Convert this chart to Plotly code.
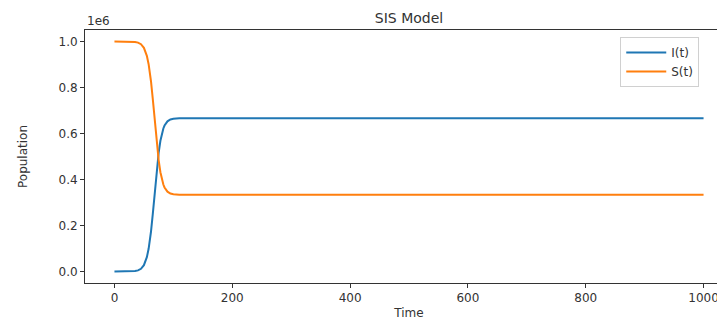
import plotly.graph_objects as go

time = [0, 10, 20, 30, 35, 40, 45, 50, 55, 58, 60, 62, 65, 68, 70, 72, 75, 78, 80, 83, 85, 88, 90, 95, 100, 110, 120, 150,
        200, 300, 400, 500, 600, 700, 800, 900, 1000]
infected = [5, 26, 150, 862, 2065, 4940, 11700, 27500, 62200, 98800, 131800, 172800, 248000, 333500, 391000, 445600,
            515500, 568200, 594400, 622000, 634600, 647400, 653000, 661000, 664500, 666200, 666600, 666660,
            666667, 666667, 666667, 666667, 666667, 666667, 666667, 666667, 666667]
susceptible = [999995, 999974, 999850, 999138, 997935, 995060, 988300, 972500, 937800, 901200, 868200, 827200, 752000,
               666500, 609000, 554400, 484500, 431800, 405600, 378000, 365400, 352600, 347000, 339000, 335500, 333800,
               333400, 333340, 333333, 333333, 333333, 333333, 333333, 333333, 333333, 333333, 333333]

x_ticks = [0, 200, 400, 600, 800, 1000]
y_ticks = [0, 200000, 400000, 600000, 800000, 1000000]
y_tick_text = ["0.0", "0.2", "0.4", "0.6", "0.8", "1.0"]

font_family = "DejaVu Sans"
text_color = "#333333"

fig = go.Figure()
fig.add_trace(go.Scatter(x=time, y=infected, mode="lines", name="I(t)",
                         line=dict(color="#1f77b4", width=2)))
fig.add_trace(go.Scatter(x=time, y=susceptible, mode="lines", name="S(t)",
                         line=dict(color="#ff7f0e", width=2)))

fig.update_layout(
    width=725, height=320,
    margin=dict(l=77, r=0, t=22, b=45, autoexpand=False),
    plot_bgcolor="white", paper_bgcolor="white",
    font=dict(family=font_family, size=12, color=text_color),
    title=dict(text="SIS Model", xref="paper", x=0.5, xanchor="center",
               yref="container", y=0.969, yanchor="middle", font=dict(size=14, color=text_color)),
    showlegend=True,
    legend=dict(x=0.826, y=0.972, xanchor="left", yanchor="top", itemwidth=40,
                bgcolor="rgba(255,255,255,0.8)", bordercolor="#d0d0d0", borderwidth=1,
                font=dict(size=12, color=text_color), tracegroupgap=0),
    xaxis=dict(range=[-50, 1050], tickvals=x_ticks, ticks="outside", ticklen=4, tickcolor="#333",
               showline=True, linecolor="#333", linewidth=1, mirror=True, showgrid=False, zeroline=False,
               automargin=False,
               title=dict(text="Time", standoff=4, font=dict(size=12)),
               tickfont=dict(size=12)),
    yaxis=dict(range=[-50000, 1050000], tickvals=y_ticks, ticktext=y_tick_text, ticks="outside", ticklen=4,
               tickcolor="#333", showline=True, linecolor="#333", linewidth=1, mirror=False, showgrid=False,
               zeroline=False, automargin=False,
               title=dict(text="Population", standoff=28, font=dict(size=12)),
               tickfont=dict(size=12)),
    annotations=[dict(text="1e6", xref="paper", yref="paper", x=0, y=1, xanchor="left", yanchor="bottom",
                      showarrow=False, font=dict(size=12, color=text_color))],
)

fig.write_html("out.html")
